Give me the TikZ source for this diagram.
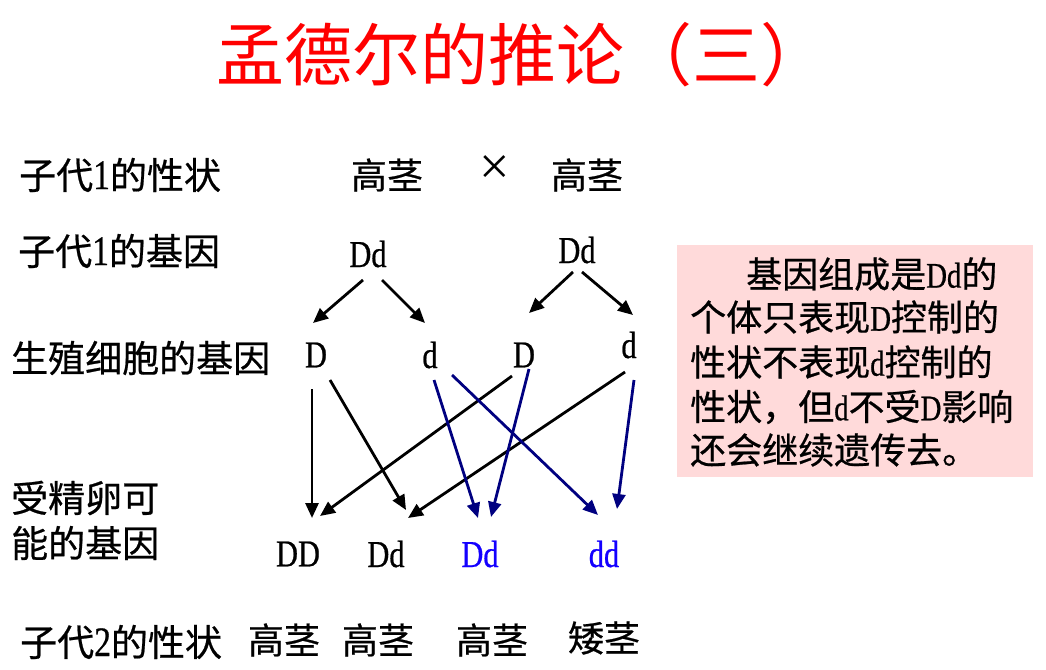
\documentclass[tikz,border=0pt]{standalone}
\usepackage{fontspec}
\setmainfont{Noto Sans CJK SC}
\newfontfamily\cjk{Noto Sans CJK SC}
\newfontfamily\cjkb[FakeBold=0.6]{Noto Sans CJK SC}
\newfontfamily\lat[FakeStretch=0.8,FakeBold=0.6]{Liberation Serif}
\newfontfamily\latn{Liberation Serif}
\newcommand{\digit}[1]{{\lat\fontsize{42}{42}\selectfont #1}}
\usetikzlibrary{arrows.meta}
\definecolor{boxpink}{RGB}{255,218,218}
\definecolor{navyarrow}{RGB}{0,0,128}
\definecolor{bluetext}{RGB}{20,0,255}
\definecolor{titlered}{RGB}{255,0,0}
\begin{document}
\begin{tikzpicture}[x=1pt,y=-1pt,
  lbl/.style={anchor=west,inner sep=0,font=\cjkb\fontsize{37}{37}\selectfont},
  trait/.style={inner sep=0,font=\cjkb\fontsize{36}{36}\selectfont},
  gene/.style={inner sep=0,font=\lat\fontsize{38}{38}\selectfont},
  bluegene/.style={gene,text=bluetext},
  boxline/.style={anchor=west,inner sep=0,font=\cjkb\fontsize{36}{36}\selectfont},
  arr/.style={line width=2.8pt,-{Triangle[length=15pt,width=13pt]}},
  barr/.style={arr,draw=navyarrow}]
\useasboundingbox (0,0) rectangle (1046,669);
\fill[white] (0,0) rectangle (1046,669);
% title
\node[anchor=west,inner sep=0,text=titlered,font=\cjk\fontsize{68}{68}\selectfont] (title) at (216,55) {孟德尔的推论（三）};
% left labels
\node[lbl] (l1) at (19,175) {子代\digit{1}的性状};
\node[lbl] (l2) at (18,251) {子代\digit{1}的基因};
\node[lbl] (l3) at (11,358) {生殖细胞的基因};
\node[lbl] (l4) at (11,498) {受精卵可};
\node[lbl] (l5) at (11,543) {能的基因};
\node[lbl] (l6) at (20,642) {子代\digit{2}的性状};
% parents
\node[trait] (p1) at (387,175) {高茎};
\node[inner sep=0,font=\latn\fontsize{54}{54}\selectfont] (cross) at (495,170) {×};
\node[trait] (p2) at (587,175) {高茎};
\node[gene] (G1) at (368,254) {Dd};
\node[gene] (G2) at (577,250) {Dd};
% gametes
\node[gene] (a1) at (316,355) {D};
\node[gene] (a2) at (430,355) {d};
\node[gene] (b1) at (524,355) {D};
\node[gene] (b2) at (629,345) {d};
% zygotes
\node[gene] (z1) at (298,554) {DD};
\node[gene] (z2) at (386,554) {Dd};
\node[bluegene] (z3) at (480,554) {Dd};
\node[bluegene] (z4) at (604,554) {dd};
% F2 traits
\node[trait] (t1) at (284,640) {高茎};
\node[trait] (t2) at (378,640) {高茎};
\node[trait] (t3) at (492,640) {高茎};
\node[trait] (t4) at (604,638) {矮茎};
% note box
\fill[boxpink] (677,245) rectangle (1033,477);
\node[boxline] (n1) at (746,274) {基因组成是{\lat Dd}的};
\node[boxline] (n2) at (690,317) {个体只表现{\lat D}控制的};
\node[boxline] (n3) at (690,362) {性状不表现{\lat d}控制的};
\node[boxline] (n4) at (690,407) {性状，但{\lat d}不受{\lat D}影响};
\node[boxline] (n5) at (690,450) {还会继续遗传去。};
% arrow endpoints
\coordinate (G1l) at (363,280); \coordinate (a1t) at (313,323);
\coordinate (G1r) at (382,280); \coordinate (a2t) at (425,323);
\coordinate (G2l) at (573,272); \coordinate (b1t) at (529,313);
\coordinate (G2r) at (582,272); \coordinate (b2t) at (633,315);
\coordinate (a1s) at (312,389); \coordinate (z1a) at (312,518);
\coordinate (a1d) at (330,380); \coordinate (z2a) at (406,510);
\coordinate (a2s) at (434,380); \coordinate (z3a) at (478,518);
\coordinate (a2d) at (452,375); \coordinate (z4a) at (598,515);
\coordinate (b1s) at (512,376); \coordinate (z1b) at (320,516);
\coordinate (b1d) at (529,369); \coordinate (z3b) at (491,517);
\coordinate (b2s) at (625,372); \coordinate (z2b) at (408,518);
\coordinate (b2d) at (634,380); \coordinate (z4b) at (617,509);
% arrows
\draw[arr] (G1l) -- (a1t);
\draw[arr] (G1r) -- (a2t);
\draw[arr] (G2l) -- (b1t);
\draw[arr] (G2r) -- (b2t);
\draw[arr] (a1s) -- (z1a);
\draw[arr] (a1d) -- (z2a);
\draw[arr] (b1s) -- (z1b);
\draw[arr] (b2s) -- (z2b);
\draw[barr] (a2s) -- (z3a);
\draw[barr] (a2d) -- (z4a);
\draw[barr] (b1d) -- (z3b);
\draw[barr] (b2d) -- (z4b);
\end{tikzpicture}
\end{document}
